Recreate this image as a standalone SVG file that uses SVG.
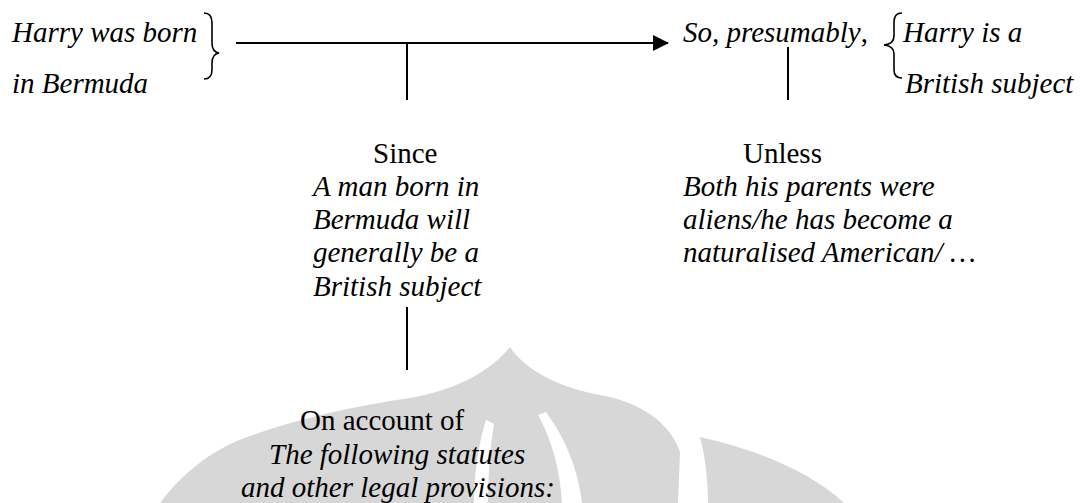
<svg xmlns="http://www.w3.org/2000/svg" width="1080" height="503" viewBox="0 0 1080 503">
<style>
text{font-family:"Liberation Serif","Times New Roman",serif;font-size:29px;fill:#000}
.i{font-style:italic}
.ln{stroke:#000;stroke-width:2;fill:none}
.br{stroke:#000;stroke-width:1.6;fill:none}
.wm{fill:#d7d7d7}
.gap{fill:#fff}
</style>
<defs>
<marker id="ah" markerWidth="16" markerHeight="16" refX="15" refY="8" orient="auto" markerUnits="userSpaceOnUse" viewBox="0 0 16 16">
<path d="M0,0 L16,8 L0,16 Z" fill="#000"/>
</marker>
</defs>
<g id="watermark">
<path class="wm" d="M160,503 C185,470 215,448 250,436 C300,418 360,405 410,398 C455,390 490,372 510,347 C525,370 560,388 600,395 C640,402 670,422 680,452 L678,503 Z"/>
<path class="gap" d="M486,420 C478,445 474,475 474,503 L488,503 C488,475 490,448 494,424 Z"/>
<path class="gap" d="M538,415 C552,440 560,470 562,503 L582,503 C578,468 565,438 546,412 Z"/>
<path class="wm" d="M700,437 C760,450 815,475 844,503 L708,503 C708,480 705,455 700,437 Z"/>
</g>
<g id="connectors">
<path class="ln" d="M236,43 L668,43" marker-end="url(#ah)"/>
<path class="ln" d="M407,43 L407,100"/>
<path class="ln" d="M788,47 L788,100"/>
<path class="ln" d="M407,307 L407,370"/>
</g>
<g id="premise">
<text class="i" x="12" y="42">Harry was born</text>
<text class="i" x="12" y="93">in Bermuda</text>
<path class="br" d="M204,13 Q212,13 212,23 L212,43 Q212,52 219,53 Q212,54 212,63 L212,70 Q212,79 204,79"/>
</g>
<g id="conclusion">
<text x="683" y="42"><tspan class="i">So, presumably</tspan>,</text>
<path class="br" d="M902,13 Q894,13 894,22 L894,36 Q894,44 884,45 Q894,46 894,54 L894,70 Q894,78 902,78"/>
<text class="i" x="903" y="42">Harry is a</text>
<text class="i" x="905" y="93">British subject</text>
</g>
<g id="warrant">
<text x="373" y="163">Since</text>
<text class="i" x="313" y="196">A man born in</text>
<text class="i" x="313" y="229">Bermuda will</text>
<text class="i" x="313" y="262">generally be a</text>
<text class="i" x="313" y="296">British subject</text>
</g>
<g id="rebuttal">
<text x="743" y="163">Unless</text>
<text class="i" x="683" y="196">Both his parents were</text>
<text class="i" x="683" y="229">aliens/he has become a</text>
<text class="i" x="683" y="262">naturalised American/ …</text>
</g>
<g id="backing">
<text x="300" y="430">On account of</text>
<text class="i" x="269" y="464">The following statutes</text>
<text class="i" x="241" y="497">and other legal provisions:</text>
</g>
</svg>
